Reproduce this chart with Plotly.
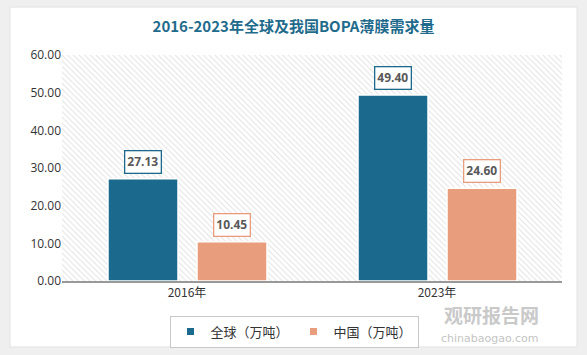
import plotly.graph_objects as go

categories = ["2016年", "2023年"]
global_vals = [27.13, 49.40]
china_vals = [10.45, 24.60]
series_names = ["全球（万吨）", "中国（万吨）"]
y_ticks = [0, 10, 20, 30, 40, 50, 60]

BLUE = "#1b6a8e"
ORANGE = "#e89d7c"
W = 0.28
OFF_G = -0.316
OFF_C = 0.04

fig = go.Figure()

# hatched plot background
fig.add_trace(go.Bar(
    x=categories, y=[max(y_ticks)] * len(categories), width=1, offset=-0.5,
    marker=dict(color="white", line=dict(width=0),
                pattern=dict(shape="\\", fgcolor="#c4c4c4", bgcolor="white", size=4, solidity=0.25)),
    showlegend=False, hoverinfo="skip"))

fig.add_trace(go.Bar(x=categories, y=global_vals, name=series_names[0], width=W, offset=OFF_G,
                     legendgroup="g", showlegend=False,
                     marker=dict(color=BLUE, line=dict(color="white", width=1.5))))
fig.add_trace(go.Bar(x=categories, y=china_vals, name=series_names[1], width=W, offset=OFF_C,
                     legendgroup="c", showlegend=False,
                     marker=dict(color=ORANGE, line=dict(color="white", width=1.5))))

# legend entries with small square markers
for name, col, grp in [(series_names[0], BLUE, "g"), (series_names[1], ORANGE, "c")]:
    fig.add_trace(go.Scatter(x=[None], y=[None], mode="markers", name=name, legendgroup=grp,
                             marker=dict(symbol="square", size=7, color=col)))

for i, v in enumerate(global_vals):
    fig.add_annotation(x=i + OFF_G + W / 2, y=v, text=f"<b>{v:.2f}</b>", showarrow=False,
                       yanchor="bottom", yshift=5, bgcolor="white", bordercolor=BLUE, borderwidth=1.3,
                       borderpad=2, font=dict(size=12, color="#595959", family="Open Sans"))
for i, v in enumerate(china_vals):
    fig.add_annotation(x=i + OFF_C + W / 2, y=v, text=f"<b>{v:.2f}</b>", showarrow=False,
                       yanchor="bottom", yshift=5, bgcolor="white", bordercolor=ORANGE, borderwidth=1.3,
                       borderpad=2, font=dict(size=12, color="#595959", family="Open Sans"))

# watermark
fig.add_annotation(xref="paper", yref="paper", x=0.958, y=-0.08, xanchor="right", yanchor="top",
                   text="<b>观研报告网</b>", showarrow=False,
                   font=dict(size=19, color="#c9c9c9", family="Noto Sans CJK SC"))
fig.add_annotation(xref="paper", yref="paper", x=0.958, y=-0.215, xanchor="right", yanchor="top",
                   text="chinabaogao.com", showarrow=False,
                   font=dict(size=11, color="#c4c4c4", family="DejaVu Sans"))

# card
fig.add_shape(type="rect", xref="paper", yref="paper", x0=-0.104, x1=1.03, y0=-0.292, y1=1.212,
              fillcolor="white", line=dict(color="#e2e2e2", width=1), layer="below")

fig.update_layout(
    width=587, height=355,
    margin=dict(l=62, r=25, t=55, b=74, autoexpand=False),
    paper_bgcolor="#efefef", plot_bgcolor="white",
    barmode="overlay",
    title=dict(text="<b>2016-2023年全球及我国BOPA薄膜需求量</b>", x=0.5, xanchor="center",
               xref="container", y=0.924, yanchor="middle",
               font=dict(size=15, color="#1f6b8c", family="Noto Sans CJK SC")),
    xaxis=dict(type="category", range=[-0.5, 1.5], showline=True, linecolor="#999999", linewidth=1.5,
               ticks="", showgrid=False, tickfont=dict(size=12, color="#333333", family="Noto Sans CJK SC")),
    yaxis=dict(range=[0, 60], tickvals=y_ticks, tickformat=".2f", showgrid=False, zeroline=False,
               showline=False, ticks="", tickfont=dict(size=12, color="#333333", family="Open Sans")),
    legend=dict(orientation="h", x=0.464, xanchor="center", y=-0.153, yanchor="top",
                bordercolor="#c8c8c8", borderwidth=1, bgcolor="white",
                font=dict(size=13, color="#333333", family="Noto Sans CJK SC"),
                traceorder="normal", itemwidth=30, tracegroupgap=0),
    showlegend=True,
)

fig.write_html("out.html", config={"displayModeBar": False},
               post_script="document.body.style.margin='0px';document.body.style.overflow='hidden';")
